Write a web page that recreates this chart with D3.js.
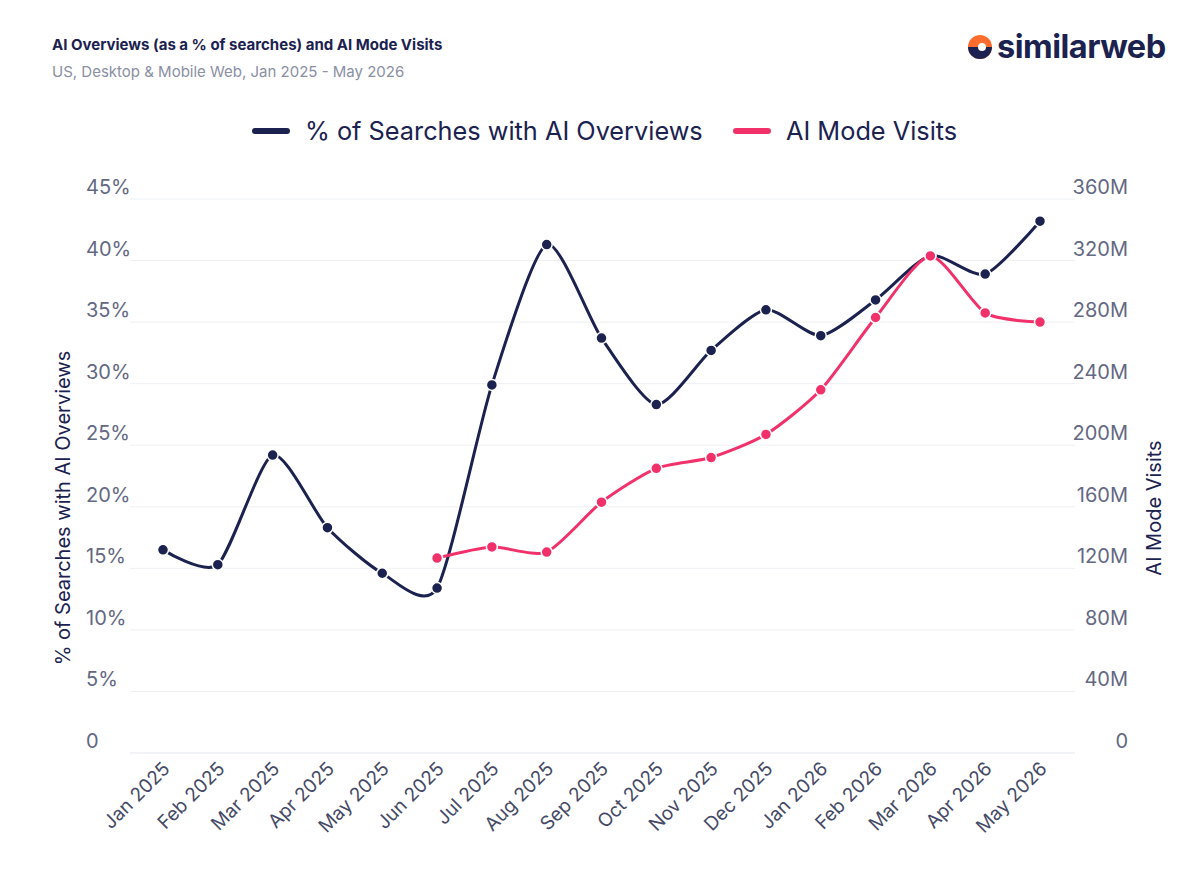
<!DOCTYPE html>
<html><head><meta charset="utf-8">
<script src="https://cdn.jsdelivr.net/npm/d3@7"></script>
<style>body{margin:0;background:#fff;font-family:Inter,"Noto Sans",sans-serif}</style>
</head><body><svg id="c" width="1200" height="883"></svg>
<script>
const months=["Jan 2025","Feb 2025","Mar 2025","Apr 2025","May 2025","Jun 2025","Jul 2025","Aug 2025","Sep 2025","Oct 2025","Nov 2025","Dec 2025","Jan 2026","Feb 2026","Mar 2026","Apr 2026","May 2026"];
const aiOverviews=[16.5,15.3,24.2,18.3,14.6,13.4,29.9,41.3,33.7,28.3,32.7,36.0,33.9,36.8,40.4,38.9,43.2];
const aiModeVisits=[null,null,null,null,null,126.7,133.9,130.6,163,185,192,207,236,283,323,286,280];
const leftTicks=[0,5,10,15,20,25,30,35,40,45];
const rightTicks=[0,40,80,120,160,200,240,280,320,360];
const navy="#1b2250",pink="#f2316b";
const svg=d3.select("#c");
const x=d3.scalePoint().domain(months).range([163,1040]);
const yL=d3.scaleLinear().domain([0,45]).range([753,199]);
const yR=d3.scaleLinear().domain([0,360]).range([753,199]);
svg.append("text").attr("x",52).attr("y",50).attr("font-size",15).attr("font-weight",700).attr("fill",navy).text("AI Overviews (as a % of searches) and AI Mode Visits");
svg.append("text").attr("x",52).attr("y",77).attr("font-size",15).attr("fill","#8a8fa3").text("US, Desktop & Mobile Web, Jan 2025 - May 2026");
// logo
const lg=svg.append("g").attr("transform","translate(980,47)");
lg.append("circle").attr("r",12).attr("fill","#ff6d2e");
lg.append("path").attr("d","M-12,0 A12,12 0 0 0 12,0 Z").attr("fill",navy);
lg.append("circle").attr("r",4).attr("cx",2).attr("fill","#fff");
svg.append("text").attr("x",997).attr("y",58).attr("font-size",32.5).attr("font-weight",700).attr("fill",navy).attr("letter-spacing",-0.5).text("similarweb");
// legend
svg.append("rect").attr("x",252).attr("y",128).attr("width",38).attr("height",6).attr("rx",3).attr("fill",navy);
svg.append("text").attr("x",305).attr("y",140).attr("font-size",25.3).attr("fill",navy).text("% of Searches with AI Overviews");
svg.append("rect").attr("x",733).attr("y",128).attr("width",38).attr("height",6).attr("rx",3).attr("fill",pink);
svg.append("text").attr("x",786).attr("y",140).attr("font-size",25.3).attr("fill",navy).text("AI Mode Visits");
// grid
svg.append("g").selectAll("line").data(leftTicks).join("line").attr("x1",130).attr("x2",1075)
 .attr("y1",d=>yL(d)).attr("y2",d=>yL(d)).attr("stroke",d=>d===0?"#e5e7ee":"#eef0f4");
svg.append("g").selectAll("text").data(leftTicks).join("text").attr("x",86).attr("y",d=>yL(d)-5)
 .attr("font-size",20).attr("fill","#636883").text(d=>d===0?"0":d+"%");
svg.append("g").selectAll("text").data(rightTicks).join("text").attr("x",1128).attr("y",d=>yR(d)-5)
 .attr("text-anchor","end").attr("font-size",20).attr("fill","#636883").text(d=>d===0?"0":d+"M");
svg.append("text").attr("transform","translate(70,508) rotate(-90)").attr("text-anchor","middle").attr("font-size",20).attr("fill",navy).text("% of Searches with AI Overviews");
svg.append("text").attr("transform","translate(1161,508) rotate(-90)").attr("text-anchor","middle").attr("font-size",20).attr("fill",navy).text("AI Mode Visits");
// x labels
svg.append("g").selectAll("text").data(months).join("text")
 .attr("transform",d=>`translate(${x(d)+8},${770}) rotate(-45)`).attr("text-anchor","end")
 .attr("font-size",19).attr("fill","#454a66").text(d=>d);
// lines
const l1=d3.line().x((d,i)=>x(months[i])).y(d=>yL(d)).curve(d3.curveCardinal.tension(0.3));
svg.append("path").attr("d",l1(aiOverviews)).attr("fill","none").attr("stroke",navy).attr("stroke-width",3);
const pd=months.map((m,i)=>[m,aiModeVisits[i]]).filter(d=>d[1]!=null);
const l2=d3.line().x(d=>x(d[0])).y(d=>yR(d[1])).curve(d3.curveCardinal.tension(0.3));
svg.append("path").attr("d",l2(pd)).attr("fill","none").attr("stroke",pink).attr("stroke-width",3);
svg.append("g").selectAll("circle").data(aiOverviews).join("circle").attr("cx",(d,i)=>x(months[i])).attr("cy",d=>yL(d))
 .attr("r",5.5).attr("fill",navy).attr("stroke","#fff").attr("stroke-width",1.5);
svg.append("g").selectAll("circle").data(pd).join("circle").attr("cx",d=>x(d[0])).attr("cy",d=>yR(d[1]))
 .attr("r",5.5).attr("fill",pink).attr("stroke","#fff").attr("stroke-width",1.5);
</script></body></html>
